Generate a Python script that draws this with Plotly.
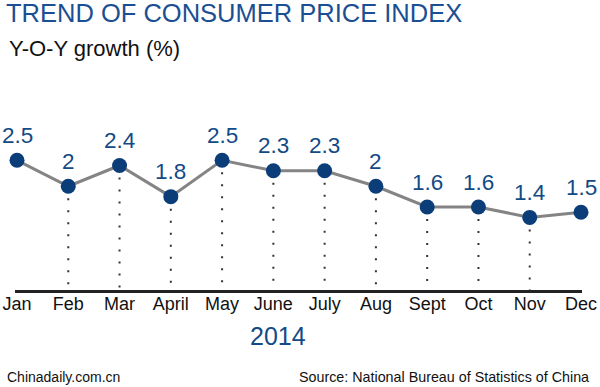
import plotly.graph_objects as go

months = ["Jan", "Feb", "Mar", "April", "May", "June", "July", "Aug", "Sept", "Oct", "Nov", "Dec"]
cpi = [2.5, 2.0, 2.4, 1.8, 2.5, 2.3, 2.3, 2.0, 1.6, 1.6, 1.4, 1.5]
labels = ["2.5", "2", "2.4", "1.8", "2.5", "2.3", "2.3", "2", "1.6", "1.6", "1.4", "1.5"]
drop_months = list(range(1, 11))  # months with dotted drop lines (Feb..Nov)

xs = list(range(len(months)))
FONT = "Liberation Sans, Arial, sans-serif"

W, H = 600, 387
L, R, T, B = 15, 18, 124, 97
pw, ph = W - L - R, H - T - B

fig = go.Figure()

# dotted drop lines
dx, dy = [], []
for i in drop_months:
    dx += [i, i, None]
    dy += [cpi[i], 0, None]
fig.add_trace(go.Scatter(x=dx, y=dy, mode="lines",
                         line=dict(color="#333333", width=2, dash="2px,10px"),
                         hoverinfo="skip", showlegend=False))

# main line
fig.add_trace(go.Scatter(x=xs, y=cpi, mode="lines+markers",
                         line=dict(color="#848484", width=3),
                         marker=dict(color="#0b3d78", size=15),
                         showlegend=False, cliponaxis=False))

for i, (v, t) in enumerate(zip(cpi, labels)):
    fig.add_annotation(x=i, y=v, text=t, showarrow=False, yshift=25,
                       font=dict(family=FONT, size=22.5, color="#124a86"),
                       xanchor="center", yanchor="middle")

texts = [
    dict(text="TREND OF CONSUMER PRICE INDEX", x=4, y=13, size=25.5, color="#1b4f93", xanchor="left"),
    dict(text="Y-O-Y growth (%)", x=7, y=48, size=22, color="#111111", xanchor="left"),
    dict(text="2014", x=278, y=336, size=25, color="#144a86", xanchor="center"),
    dict(text="Chinadaily.com.cn", x=5, y=377, size=14, color="#111111", xanchor="left"),
    dict(text="Source: National Bureau of Statistics of China", x=591, y=377, size=14.3, color="#111111", xanchor="right"),
]
for t in texts:
    fig.add_annotation(text=t["text"], xref="paper", yref="paper",
                       x=(t["x"] - L) / pw, y=(H - B - t["y"]) / ph,
                       xanchor=t["xanchor"], yanchor="middle", showarrow=False,
                       font=dict(family=FONT, size=t["size"], color=t["color"]))

fig.update_layout(
    width=W, height=H,
    margin=dict(l=L, r=R, t=T, b=B, autoexpand=False),
    paper_bgcolor="white", plot_bgcolor="white",
    xaxis=dict(range=[-0.039, 11.0195], tickvals=xs, ticktext=months,
               showgrid=False, zeroline=False, showline=True, automargin=False,
               linecolor="#222222", linewidth=3, ticks="", ticklabelstandoff=-5,
               tickfont=dict(family=FONT, size=18, color="#111111"), fixedrange=True),
    yaxis=dict(range=[0, 3.2], visible=False, showgrid=False, zeroline=False,
               automargin=False, fixedrange=True),
    font=dict(family=FONT),
)

fig.write_html("out.html", config={"responsive": False, "displayModeBar": False},
               post_script="document.body.style.margin='0';document.body.style.overflow='hidden';")
